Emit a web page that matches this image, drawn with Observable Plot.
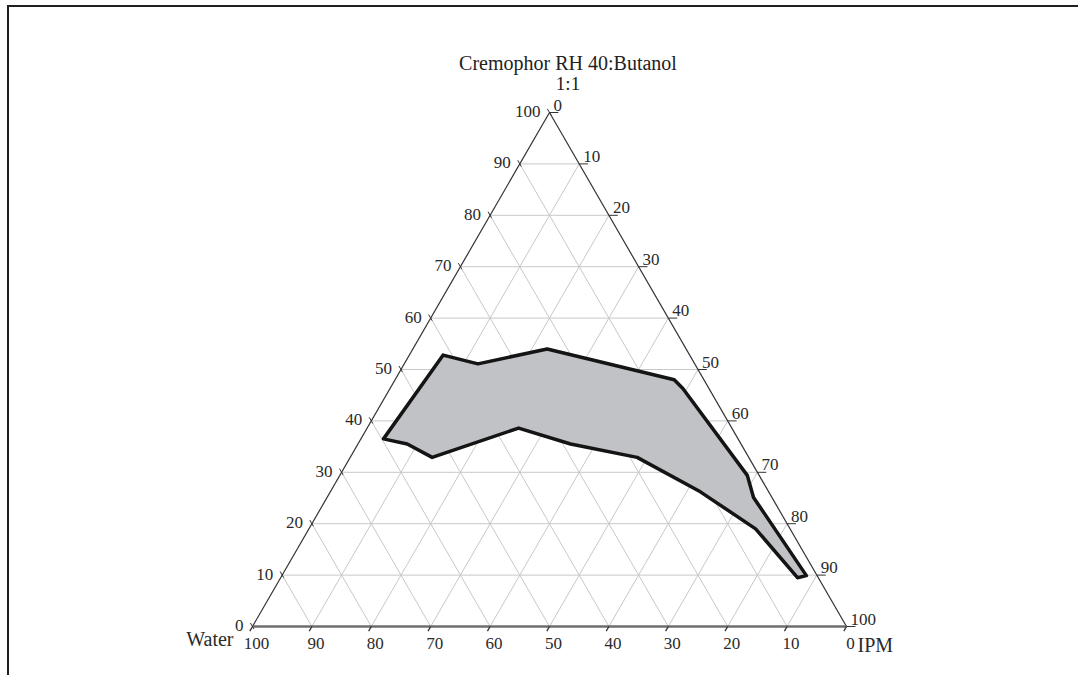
<!DOCTYPE html>
<html><head><meta charset="utf-8">
<script src="https://cdn.jsdelivr.net/npm/d3@7"></script>
<script src="https://cdn.jsdelivr.net/npm/@observablehq/plot@0.6"></script>
<style>
body{margin:0;background:#fff;width:1078px;height:675px;overflow:hidden;position:relative;font-family:"Liberation Serif","DejaVu Serif",serif;}
#frame{position:absolute;left:7px;top:5px;right:0;bottom:0;border-top:2px solid #231f20;border-left:2px solid #231f20;}
#chart{position:absolute;left:0;top:0;}
.title{position:absolute;left:0;width:1136px;text-align:center;font-size:20px;line-height:20px;color:#222;white-space:nowrap;}
</style></head><body>
<div id="frame"></div>
<div class="title" style="top:53px">Cremophor RH 40:Butanol</div>
<div class="title" style="top:74px;font-size:19px">1:1</div>
<div id="chart"></div>
<script>
// Tick values (percent)
const tickValues = [0, 10, 20, 30, 40, 50, 60, 70, 80, 90, 100];
const gridValues = [10, 20, 30, 40, 50, 60, 70, 80, 90];
// Axis names
const vertexNames = {water: "Water", ipm: "IPM", surf: "Cremophor RH 40:Butanol"};

// Microemulsion region boundary (percent compositions)
const regionWater = [41.5, 36.5, 23.4, 5.0, 4.4, 2.0, 3.1, 1.8, 3.5, 5.8, 11.5, 18.8, 28.7, 35.9, 53.3, 56.2, 59.7];
const regionIPM   = [5.7, 12.4, 22.6, 47.0, 49.3, 68.6, 71.8, 88.3, 87.0, 75.2, 62.3, 48.3, 35.8, 25.5, 13.8, 8.3, 3.8];
const regionSurf  = [52.8, 51.1, 54.0, 48.0, 46.3, 29.4, 25.1, 9.9, 9.5, 19.0, 26.2, 32.9, 35.5, 38.6, 32.9, 35.5, 36.5];

// ternary -> cartesian (data units, not pixels)
const S3 = Math.sqrt(3) / 2;
const tx = (ipm, surf) => ipm + surf / 2;
const ty = (surf) => surf * S3;

const region = regionWater.map((w, i) => ({x: tx(regionIPM[i], regionSurf[i]), y: ty(regionSurf[i])}));
region.push(region[0]);

// grid segments
const grid = [];
for (const k of gridValues) {
  grid.push({x1: tx(0, k), y1: ty(k), x2: tx(100 - k, k), y2: ty(k)});
  grid.push({x1: tx(k, 0), y1: ty(0), x2: tx(k, 100 - k), y2: ty(100 - k)});
  grid.push({x1: tx(100 - k, 0), y1: ty(0), x2: tx(0, 100 - k), y2: ty(100 - k)});
}
const sideEdges = [
  {x1: tx(0, 0), y1: ty(0), x2: tx(0, 100), y2: ty(100)},
  {x1: tx(100, 0), y1: ty(0), x2: tx(0, 100), y2: ty(100)}
];
const baseEdge = [{x1: tx(0, 0), y1: ty(0), x2: tx(100, 0), y2: ty(0)}];

// ticks
const leftTicks = tickValues.map(k => ({x1: tx(-0.7, k + 0.7), y1: ty(k + 0.7), x2: tx(0.5, k - 0.5), y2: ty(k - 0.5)}));
const bottomTicks = tickValues.map(k => ({x1: tx(k, 0), y1: ty(0), x2: tx(k, -0.9), y2: ty(-0.9)}));
const rightTicks = tickValues.map(k => ({x1: tx(k, 100 - k), y1: ty(100 - k), x2: tx(k + 1.5, 100 - k), y2: ty(100 - k)}));

// labels
const leftLabels = tickValues.map(k => ({x: tx(0, k), y: ty(k), t: String(k)}));
const bottomLabels = tickValues.map(w => ({x: tx(100 - w, 0), y: ty(0), t: String(w)}));
const rightLabels = tickValues.map(k => ({x: tx(k, 100 - k), y: ty(100 - k), t: String(k)}));

const font = "Liberation Serif";
const tcol = "#2a2a2a";

const chart = Plot.plot({
  width: 1078,
  height: 675,
  margin: 0,
  x: {domain: [0, 100], range: [252, 846], axis: null},
  y: {domain: [0, 100 * S3], range: [626, 112], axis: null},
  marks: [
    Plot.link(grid, {x1: "x1", y1: "y1", x2: "x2", y2: "y2", stroke: "#c8c8c8", strokeWidth: 1}),
    Plot.link(sideEdges, {x1: "x1", y1: "y1", x2: "x2", y2: "y2", stroke: "#333", strokeWidth: 1.2}),
    Plot.link(baseEdge, {x1: "x1", y1: "y1", x2: "x2", y2: "y2", stroke: "#6e6e6e", strokeWidth: 2.5}),
    Plot.line(region, {x: "x", y: "y", fill: "#c1c2c6", stroke: "#141414", strokeWidth: 3.5, strokeLinejoin: "round"}),
    Plot.link(leftTicks, {x1: "x1", y1: "y1", x2: "x2", y2: "y2", stroke: "#333", strokeWidth: 1}),
    Plot.link(bottomTicks, {x1: "x1", y1: "y1", x2: "x2", y2: "y2", stroke: "#333", strokeWidth: 1.3}),
    Plot.link(rightTicks, {x1: "x1", y1: "y1", x2: "x2", y2: "y2", stroke: "#333", strokeWidth: 1}),
    Plot.text(leftLabels, {x: "x", y: "y", text: "t", textAnchor: "end", lineAnchor: "middle", dx: -9, dy: -1, fontSize: 17, fontFamily: font, fill: tcol}),
    Plot.text(bottomLabels, {x: "x", y: "y", text: "t", textAnchor: "middle", lineAnchor: "top", dx: 4, dy: 10, fontSize: 17, fontFamily: font, fill: tcol}),
    Plot.text(rightLabels, {x: "x", y: "y", text: "t", textAnchor: "start", lineAnchor: "bottom", dx: 4, dy: -2, fontSize: 17, fontFamily: font, fill: tcol}),
    Plot.text([{x: tx(0, 0), y: ty(0), t: vertexNames.water}], {x: "x", y: "y", text: "t", textAnchor: "end", lineAnchor: "bottom", dx: -19, dy: 19, fontSize: 20, fontFamily: font, fill: tcol}),
    Plot.text([{x: tx(100, 0), y: ty(0), t: vertexNames.ipm}], {x: "x", y: "y", text: "t", textAnchor: "start", lineAnchor: "bottom", dx: 11, dy: 25, fontSize: 20, fontFamily: font, fill: tcol})
  ]
});
document.getElementById("chart").appendChild(chart);
</script></body></html>
